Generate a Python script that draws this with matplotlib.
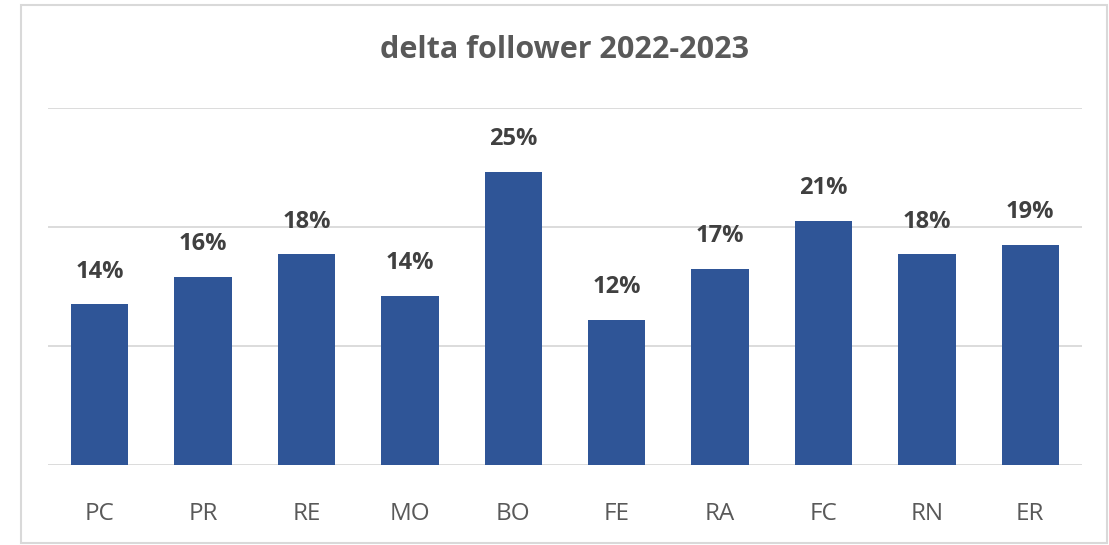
import matplotlib
matplotlib.use("Agg")
import matplotlib.pyplot as plt
from matplotlib.patches import Rectangle

categories = ["PC", "PR", "RE", "MO", "BO", "FE", "RA", "FC", "RN", "ER"]
values = [13.5, 15.8, 17.7, 14.2, 24.6, 12.2, 16.5, 20.5, 17.7, 18.5]
labels = ["14%", "16%", "18%", "14%", "25%", "12%", "17%", "21%", "18%", "19%"]

W, H = 1109, 545
fig = plt.figure(figsize=(W / 100, H / 100), dpi=100)
fig.patch.set_facecolor("white")

# outer chart border
fig.add_artist(Rectangle((21 / W, 1 - 543 / H), (1107 - 21) / W, (543 - 5) / H,
                         transform=fig.transFigure, fill=False,
                         edgecolor="#d9d9d9", linewidth=1.5))

ax = fig.add_axes([48 / W, 1 - 465 / H, (1082 - 48) / W, (465 - 108) / H])
x = range(len(categories))
ax.bar(x, values, width=0.555, color="#2F5597", zorder=3)
ax.set_xlim(-0.5, len(categories) - 0.5)
ax.set_ylim(0, 30)
ax.set_yticks([0, 10, 20, 30])
ax.yaxis.grid(True, color="#d9d9d9", linewidth=1.3, zorder=0)
ax.tick_params(axis="y", left=False, labelleft=False)
ax.tick_params(axis="x", length=0, pad=27, labelsize=17.5, labelcolor="#595959")
ax.set_xticks(list(x))
ax.set_xticklabels(categories, fontfamily="Open Sans")
for s in ["top", "right", "left", "bottom"]:
    ax.spines[s].set_visible(False)

for xi, v, lab in zip(x, values, labels):
    ax.annotate(lab, (xi, v), xytext=(0, 15), textcoords="offset points",
                ha="center", va="bottom", fontsize=17, fontweight="bold",
                color="#404040", fontfamily="Open Sans")

fig.text(565 / W, 1 - 50 / H, "delta follower 2022-2023", ha="center", va="center",
         fontsize=22, fontweight="bold", color="#595959", fontfamily="Open Sans")

fig.savefig("out.png", dpi=100, facecolor="white")
